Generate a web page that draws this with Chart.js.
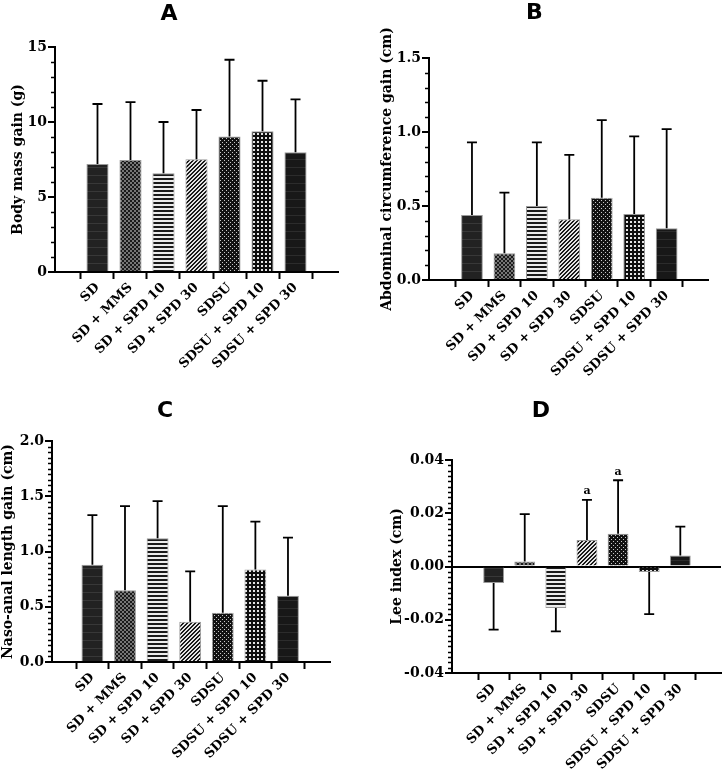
<!DOCTYPE html>
<html>
<head>
<meta charset="utf-8">
<script src="https://cdn.jsdelivr.net/npm/chart.js@4.4.0/dist/chart.umd.min.js"></script>
<style>
  html, body { margin: 0; padding: 0; background: #fff; overflow: hidden; }
  #contenedor { position: relative; width: 722px; height: 769px; overflow: hidden; }
  .panel { position: absolute; }
</style>
</head>
<body>
<div id="contenedor">
  <div class="panel" style="left:0;top:0;width:361px;height:385px"><canvas id="graficaA"></canvas></div>
  <div class="panel" style="left:361px;top:0;width:394px;height:385px"><canvas id="graficaB"></canvas></div>
  <div class="panel" style="left:0;top:385px;width:361px;height:384px"><canvas id="graficaC"></canvas></div>
  <div class="panel" style="left:361px;top:385px;width:394px;height:384px"><canvas id="graficaD"></canvas></div>
</div>
<script>
// grupos experimentales (eje x de las 4 gráficas)
var grupos = ['SD', 'SD + MMS', 'SD + SPD 10', 'SD + SPD 30', 'SDSU', 'SDSU + SPD 10', 'SDSU + SPD 30'];

// A - ganancia de masa corporal (g): media y desviación
var masaMedia = [7.2, 7.47, 6.58, 7.51, 9.04, 9.38, 7.98];
var masaDesv = [4.0, 3.86, 3.42, 3.29, 5.11, 3.37, 3.53];

// B - ganancia de circunferencia abdominal (cm)
var abdMedia = [0.44, 0.18, 0.50, 0.41, 0.556, 0.446, 0.35];
var abdDesv = [0.49, 0.41, 0.43, 0.435, 0.524, 0.524, 0.67];

// C - ganancia de longitud naso-anal (cm)
var nasoMedia = [0.88, 0.65, 1.12, 0.364, 0.445, 0.836, 0.60];
var nasoDesv = [0.45, 0.76, 0.335, 0.456, 0.965, 0.434, 0.525];

// D - índice de Lee (cm)
var leeMedia = [-0.0062, 0.0019, -0.0156, 0.010, 0.0123, -0.0021, 0.0041];
var leeDesv = [0.0175, 0.0178, 0.0088, 0.015, 0.0201, 0.0158, 0.0109];
var leeLetras = ['', '', '', 'a', 'a', '', ''];

var fuenteSerif = 'DejaVu Serif';

// tramas de relleno de cada grupo
function crearTramas(ctx) {
  function trama(w, h, dibujar) {
    var c = document.createElement('canvas');
    c.width = w; c.height = h;
    var g = c.getContext('2d');
    dibujar(g, w, h);
    return ctx.createPattern(c, 'repeat');
  }
  return [
    trama(8, 8, function (g) { g.fillStyle = '#222'; g.fillRect(0, 0, 8, 8); g.fillStyle = '#383838'; g.fillRect(0, 7, 8, 1); }),
    trama(4, 4, function (g) { g.fillStyle = '#1a1a1a'; g.fillRect(0, 0, 4, 4); g.fillStyle = '#767676'; g.fillRect(0, 0, 2, 2); g.fillRect(2, 2, 2, 2); }),
    trama(4, 4, function (g) { g.fillStyle = '#ececec'; g.fillRect(0, 0, 4, 4); g.fillStyle = '#1a1a1a'; g.fillRect(0, 2, 4, 2); }),
    trama(4, 4, function (g) {
      for (var x = 0; x < 4; x++) for (var y = 0; y < 4; y++) {
        g.fillStyle = ((x + y) % 4 < 2) ? '#1a1a1a' : '#e4e4e4';
        g.fillRect(x, y, 1, 1);
      }
    }),
    trama(4, 4, function (g) { g.fillStyle = '#121212'; g.fillRect(0, 0, 4, 4); g.fillStyle = '#c8c8c8'; g.fillRect(0, 0, 1, 1); g.fillRect(2, 2, 1, 1); }),
    trama(4, 4, function (g) { g.fillStyle = '#0e0e0e'; g.fillRect(0, 0, 4, 4); g.fillStyle = '#e4e4e4'; g.fillRect(1, 1, 2, 2); }),
    trama(8, 8, function (g) { g.fillStyle = '#181818'; g.fillRect(0, 0, 8, 8); g.fillStyle = '#2c2c2c'; g.fillRect(0, 7, 8, 1); })
  ];
}

// plugin: barras de error, letras de significancia y marcas menores del eje y
var pluginError = {
  id: 'barrasError',
  afterDatasetsDraw: function (chart, args, op) {
    var ctx = chart.ctx;
    var ey = chart.scales.y;
    var meta = chart.getDatasetMeta(0);
    ctx.save();
    ctx.strokeStyle = '#000';
    ctx.fillStyle = '#000';
    ctx.lineWidth = 1.8;
    meta.data.forEach(function (barra, i) {
      var m = op.medias[i];
      var fin = m >= 0 ? m + op.desv[i] : m - op.desv[i];
      var y0 = ey.getPixelForValue(m);
      var y1 = ey.getPixelForValue(fin);
      ctx.beginPath();
      ctx.moveTo(barra.x, y0);
      ctx.lineTo(barra.x, y1);
      ctx.moveTo(barra.x - op.tapa, y1);
      ctx.lineTo(barra.x + op.tapa, y1);
      ctx.stroke();
      if (op.letras && op.letras[i]) {
        ctx.font = 'bold 11px "' + fuenteSerif + '"';
        ctx.textAlign = 'center';
        ctx.textBaseline = 'bottom';
        ctx.fillText(op.letras[i], barra.x, y1 - 3);
      }
    });
    // marcas menores
    var n = Math.round((ey.max - ey.min) / op.menor);
    var salto = Math.round(op.mayor / op.menor);
    ctx.lineWidth = 1.3;
    ctx.beginPath();
    for (var k = 0; k <= n; k++) {
      if (k % salto === 0) continue;
      var p = Math.round(ey.getPixelForValue(ey.min + k * op.menor)) + 0.5;
      ctx.moveTo(ey.right - 4, p);
      ctx.lineTo(ey.right, p);
    }
    ctx.stroke();
    ctx.restore();
  }
};

function crearGrafica(id, cfg) {
  var canvas = document.getElementById(id);
  var ctx = canvas.getContext('2d');
  var W = canvas.parentNode.clientWidth, H = canvas.parentNode.clientHeight;
  var tramas = crearTramas(ctx);
  var a = cfg.area;
  var tamTitulo = 22;
  var marcas = [];
  var nMay = Math.round((cfg.max - cfg.min) / cfg.mayor);
  for (var k = 0; k <= nMay; k++) marcas.push({ value: cfg.min + k * cfg.mayor });

  return new Chart(ctx, {
    type: 'bar',
    data: {
      datasets: [{
        data: cfg.medias.map(function (v, i) { return { x: i, y: v }; }),
        backgroundColor: tramas,
        borderColor: '#9a9a9a',
        borderWidth: 1,
        barPercentage: 0.67,
        categoryPercentage: 1
      }]
    },
    options: {
      responsive: true,
      maintainAspectRatio: false,
      animation: false,
      layout: { padding: { left: 0, top: 0, right: W - a.right, bottom: 0 } },
      plugins: {
        legend: { display: false },
        tooltip: { enabled: false },
        title: {
          display: true,
          text: cfg.titulo,
          color: '#000',
          font: { family: 'DejaVu Sans', weight: 'bold', size: tamTitulo, lineHeight: 1.2 },
          padding: { top: cfg.tituloArriba, bottom: a.top - cfg.tituloArriba - tamTitulo * 1.2 }
        },
        barrasError: {
          medias: cfg.medias,
          desv: cfg.desv,
          letras: cfg.letras,
          mayor: cfg.mayor,
          menor: cfg.menor,
          tapa: 5
        }
      },
      scales: {
        x: {
          type: 'linear',
          min: -cfg.hueco[0],
          max: grupos.length - 1 + cfg.hueco[1],
          afterBuildTicks: function (s) { s.ticks = grupos.map(function (g, i) { return { value: i }; }); },
          afterFit: function (s) { s.height = H - a.bottom; },
          ticks: {
            autoSkip: false,
            minRotation: 45,
            maxRotation: 45,
            padding: 1,
            color: '#000',
            font: { family: fuenteSerif, weight: 'bold', size: 13 },
            callback: function (v) { return grupos[v]; }
          },
          grid: { drawOnChartArea: false, drawTicks: true, tickLength: 7, tickWidth: 2, tickColor: '#000' },
          border: { display: true, color: '#000', width: 2 }
        },
        y: {
          min: cfg.min,
          max: cfg.max,
          afterBuildTicks: function (s) { s.ticks = marcas.slice(); },
          afterFit: function (s) { s.width = a.left; },
          ticks: {
            padding: 1,
            color: '#000',
            font: { family: fuenteSerif, weight: 'bold', size: 14 },
            callback: function (v) { return v.toFixed(cfg.decimales); }
          },
          title: {
            display: true,
            text: cfg.tituloY,
            color: '#000',
            font: { family: fuenteSerif, weight: 'bold', size: 14, lineHeight: 1.2 },
            padding: { top: cfg.tituloYpad, bottom: 0 }
          },
          grid: {
            drawOnChartArea: !!cfg.lineaCero,
            color: function (c) { return (cfg.lineaCero && c.tick && Math.abs(c.tick.value) < 1e-9) ? '#000' : 'rgba(0,0,0,0)'; },
            lineWidth: 2,
            tickLength: 7,
            tickWidth: 2,
            tickColor: '#000'
          },
          border: { display: true, color: '#000', width: 2 }
        }
      }
    },
    plugins: [pluginError]
  });
}

var graficaA = crearGrafica('graficaA', {
  titulo: 'A', tituloY: 'Body mass gain (g)',
  medias: masaMedia, desv: masaDesv,
  min: 0, max: 15, mayor: 5, menor: 1, decimales: 0,
  area: { left: 55, top: 47, right: 338, bottom: 272 },
  hueco: [0.675, 0.675], tituloArriba: 1, tituloYpad: 10
});

var graficaB = crearGrafica('graficaB', {
  titulo: 'B', tituloY: 'Abdominal circumference gain (cm)',
  medias: abdMedia, desv: abdDesv,
  min: 0, max: 1.5, mayor: 0.5, menor: 0.1, decimales: 1,
  area: { left: 68, top: 58, right: 347, bottom: 280 },
  hueco: [0.71, 0.66], tituloArriba: 0, tituloYpad: 18
});

var graficaC = crearGrafica('graficaC', {
  titulo: 'C', tituloY: 'Naso-anal length gain (cm)',
  medias: nasoMedia, desv: nasoDesv,
  min: 0, max: 2, mayor: 0.5, menor: 0.05, decimales: 1,
  area: { left: 52, top: 56, right: 330, bottom: 277 },
  hueco: [0.63, 0.68], tituloArriba: 13, tituloYpad: 0
});

var graficaD = crearGrafica('graficaD', {
  titulo: 'D', tituloY: 'Lee index (cm)',
  medias: leeMedia, desv: leeDesv, letras: leeLetras,
  min: -0.04, max: 0.04, mayor: 0.02, menor: 0.002, decimales: 2,
  area: { left: 91, top: 75, right: 360, bottom: 288 },
  hueco: [0.72, 0.69], tituloArriba: 13.5, tituloYpad: 28, lineaCero: true
});
</script>
</body>
</html>
